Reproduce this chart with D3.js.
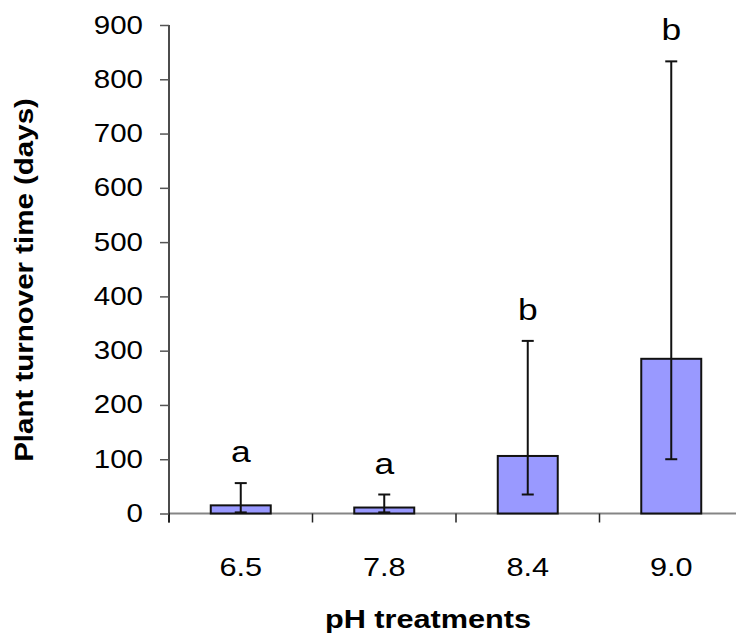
<!DOCTYPE html>
<html>
<head>
<meta charset="utf-8">
<script src="https://cdn.jsdelivr.net/npm/d3@7"></script>
<style>
  html, body { margin: 0; padding: 0; background: #fff; }
  svg { display: block; font-family: "Liberation Sans", Arial, sans-serif; }
</style>
</head>
<body>
<svg id="chart" width="736" height="637"></svg>
<script>
// pH treatments and plant turnover time (days): mean with lower / upper error limits
const categories = ["6.5", "7.8", "8.4", "9.0"];
const means      = [15, 11, 106, 285];
const lowerLimit = [2, 2, 35, 100];
const upperLimit = [56, 35, 318, 833];
const letters    = ["a", "a", "b", "b"];
const yTicks     = [0, 100, 200, 300, 400, 500, 600, 700, 800, 900];

// the chart's text is set in a wide face: glyphs are stretched horizontally
const WIDE = 1.18;

const svg = d3.select("#chart");

const x = d3.scaleBand()
  .domain(categories)
  .range([169, 743])
  .paddingInner(0.582)
  .paddingOuter(0.291);

const y = d3.scaleLinear().domain([0, 900]).range([513.5, 25]);

const step = x.step();
const x0 = 169;

// place a horizontally widened label at (ax, ay)
function wideText(g, ax, ay, str, anchor, size, weight) {
  return g.append("text")
    .attr("transform", `translate(${ax},${ay}) scale(${WIDE},1)`)
    .attr("text-anchor", anchor)
    .style("font-size", size + "px")
    .style("font-weight", weight || "normal")
    .attr("fill", "#000")
    .text(str);
}

// x axis line (runs on to the right edge)
svg.append("line")
  .attr("x1", x0).attr("x2", 736)
  .attr("y1", y(0)).attr("y2", y(0))
  .attr("stroke", "#858585").attr("stroke-width", 2);

// x ticks at the category boundaries
svg.append("g").selectAll("line")
  .data(d3.range(categories.length))
  .join("line")
  .attr("x1", i => x0 + i * step).attr("x2", i => x0 + i * step)
  .attr("y1", y(0)).attr("y2", y(0) + 9)
  .attr("stroke", "#222").attr("stroke-width", 1.5);

// y axis
const tickLen = 9, tickPad = 17;
const yAxis = d3.axisLeft(y).tickValues(yTicks).tickSize(tickLen).tickPadding(tickPad).tickFormat(d3.format("d"));
const gy = svg.append("g").attr("transform", `translate(${x0},0)`).call(yAxis);
gy.select(".domain").attr("stroke", "#111").attr("stroke-width", 1.5)
  .attr("d", `M0,${y(900)}V${y(0) + 9}`);
gy.selectAll(".tick line").attr("stroke", "#555").attr("stroke-width", 1.5);
gy.selectAll(".tick text")
  .attr("fill", "#000")
  .attr("x", -(tickLen + tickPad) / WIDE)
  .attr("transform", `scale(${WIDE},1)`)
  .style("font-size", "25px")
  .style("font-family", "'Liberation Sans', Arial, sans-serif");

// bars
svg.append("g").selectAll("rect")
  .data(categories)
  .join("rect")
  .attr("x", d => x(d))
  .attr("y", (d, i) => y(means[i]))
  .attr("width", x.bandwidth())
  .attr("height", (d, i) => y(0) - y(means[i]))
  .attr("fill", "#9999ff")
  .attr("stroke", "#111")
  .attr("stroke-width", 2);

// error bars
const cap = 6;
const eb = svg.append("g").attr("stroke", "#111").attr("stroke-width", 2);
categories.forEach((c, i) => {
  const cx = x(c) + x.bandwidth() / 2;
  eb.append("line").attr("x1", cx).attr("x2", cx)
    .attr("y1", y(lowerLimit[i])).attr("y2", y(upperLimit[i]));
  eb.append("line").attr("x1", cx - cap).attr("x2", cx + cap)
    .attr("y1", y(upperLimit[i])).attr("y2", y(upperLimit[i]));
  eb.append("line").attr("x1", cx - cap).attr("x2", cx + cap)
    .attr("y1", y(lowerLimit[i])).attr("y2", y(lowerLimit[i]));
});

// significance letters above the error bars
const gl = svg.append("g");
categories.forEach((c, i) => {
  wideText(gl, x(c) + x.bandwidth() / 2, y(upperLimit[i]) - 21, letters[i], "middle", 30);
});

// x tick labels
const gx = svg.append("g");
categories.forEach(c => {
  wideText(gx, x(c) + x.bandwidth() / 2, 576, c, "middle", 26);
});

// axis titles
wideText(svg, 428, 628, "pH treatments", "middle", 26, "bold");

svg.append("text")
  .attr("transform", `translate(33,280) rotate(-90) scale(${WIDE},1)`)
  .attr("text-anchor", "middle")
  .style("font-size", "25px").style("font-weight", "bold")
  .text("Plant turnover time (days)");
</script>
</body>
</html>
